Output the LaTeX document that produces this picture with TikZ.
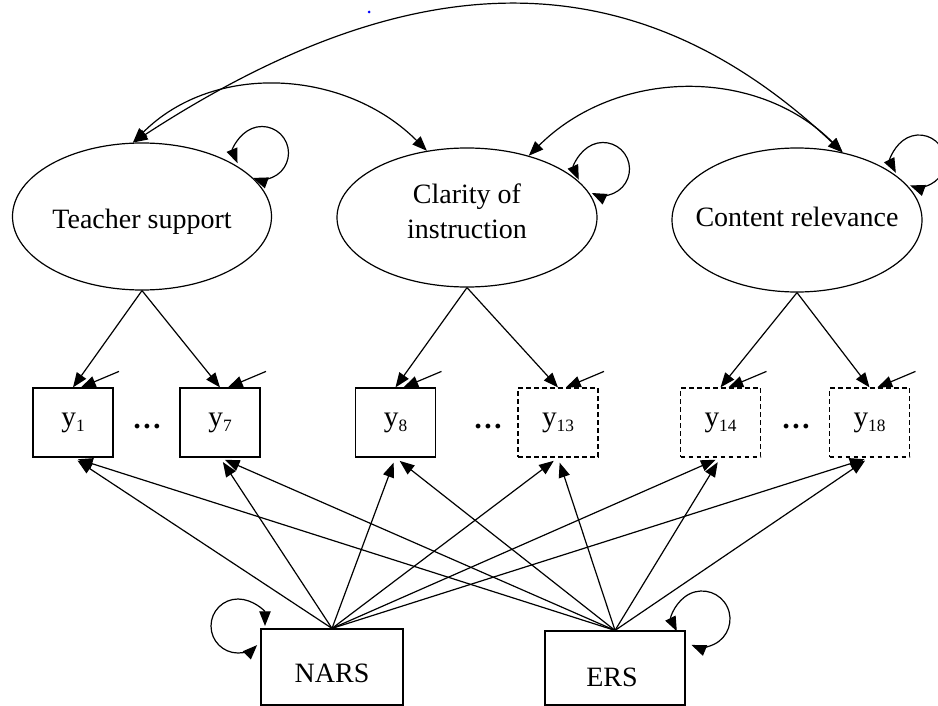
\documentclass[tikz,border=0pt]{standalone}
\usepackage{fontspec}
\setmainfont{Liberation Serif}
\usetikzlibrary{arrows.meta,shapes.geometric}

% indicator label: y with a lowered index
\newcommand\ysub[1]{y\raisebox{-0.2em}{\fontsize{13}{13}\selectfont #1}}

\begin{document}
\begin{tikzpicture}[x=0.75pt, y=0.75pt, line width=0.9pt,
  tip/.tip={Triangle[length=11pt,width=8.5pt]},
  arr/.style={-tip},
  dbl/.style={tip-tip},
  latent/.style={ellipse, draw, inner sep=0pt},
  obs/.style={rectangle, draw, minimum width=60pt, minimum height=51.75pt,
              inner sep=0pt, font=\fontsize{22}{24}\selectfont},
  obsd/.style={obs, dash pattern=on 3.5pt off 2.5pt},
  cov/.style={rectangle, draw, inner sep=0pt},
  lbl/.style={font=\fontsize{21}{26}\selectfont, align=center, inner sep=0pt},
  dots/.style={font=\fontsize{22}{24}\selectfont\bfseries, inner sep=0pt}
]
\useasboundingbox (0,0) rectangle (938,-706);

% latent factors
\node[latent, minimum width=194.25pt, minimum height=110.25pt] (ts) at (142,-216.5) {};
\node[latent, minimum width=195pt, minimum height=104.25pt] (cl) at (467,-217.5) {};
\node[latent, minimum width=187.5pt, minimum height=108pt] (cr) at (797,-220) {};
\node[lbl] (tst) at (142,-222) {Teacher support};
\node[lbl] (clt) at (467,-211) {Clarity of\\instruction};
\node[lbl] (crt) at (797,-217) {Content relevance};

% indicators
\node[obs]  (y1)  at (73,-422.5)    {\ysub{1}};
\node[obs]  (y7)  at (220,-422.5)   {\ysub{7}};
\node[obs]  (y8)  at (395.5,-422.5) {\ysub{8}};
\node[obsd] (y13) at (558,-422.5)   {\ysub{13}};
\node[obsd] (y14) at (720.5,-422.5) {\ysub{14}};
\node[obsd] (y18) at (869.5,-422.5) {\ysub{18}};
\node[dots] (d1) at (147,-427) {…};
\node[dots] (d2) at (488,-427) {…};
\node[dots] (d3) at (796,-427) {…};

% response-style covariates
\node[cov, minimum width=106.5pt, minimum height=57pt] (nars) at (332,-667) {};
\node[cov, minimum width=105pt, minimum height=55.5pt] (ers) at (615,-668) {};
\node[lbl] (narst) at (332,-673.5) {NARS};
\node[lbl] (erst) at (612,-677) {ERS};

% factor covariances
\draw[dbl] (ts.97) .. controls (398,30) and (624,54) .. (cr.56);
\draw[dbl] (ts.97) to[out=45,in=135] (cl.121);
\draw[dbl] (cl.45) to[out=45,in=135] (cr.56);

% variances
\coordinate (tsl) at (262,-153);
\coordinate (cll) at (603,-169);
\coordinate (crl) at (919,-161);
\coordinate (nal) at (238,-626);
\coordinate (erl) at (702,-619);
\draw[dbl] ([shift={(202.6:26.5)}]tsl) arc[start angle=202.6, end angle=-109.8, radius=26.5];
\draw[dbl] ([shift={(204:26.5)}]cll) arc[start angle=204, end angle=-115, radius=26.5];
\draw[dbl] ([shift={(207:26)}]crl) arc[start angle=207, end angle=-110, radius=26];
\draw[dbl] ([shift={(0:27)}]nal) arc[start angle=0, end angle=315, radius=27];
\draw[dbl] ([shift={(206:28)}]erl) arc[start angle=206, end angle=-112, radius=28];

% loadings
\foreach \f/\a/\b in {ts/y1/y7, cl/y8/y13, cr/y14/y18}{
  \draw[arr] (\f.south) -- (\a.north);
  \draw[arr] (\f.south) -- (\b.north);
}

% residuals
\foreach \y in {y1,y7,y8,y13,y14,y18}{
  \coordinate (e\y) at ([shift={(46,16)}]\y.north);
  \draw[arr] (e\y) -- ([shift={(8,0)}]\y.north);
}

% response-style effects on every indicator
\foreach \s in {nars,ers}{
  \foreach \y in {y1,y7,y8,y13,y14,y18}{
    \draw[arr, shorten >=4pt] (\s.north) -- (\y.south);
  }
}

% small blue mark
\fill[blue] (369,-12) circle[radius=1.5];
\end{tikzpicture}
\end{document}
